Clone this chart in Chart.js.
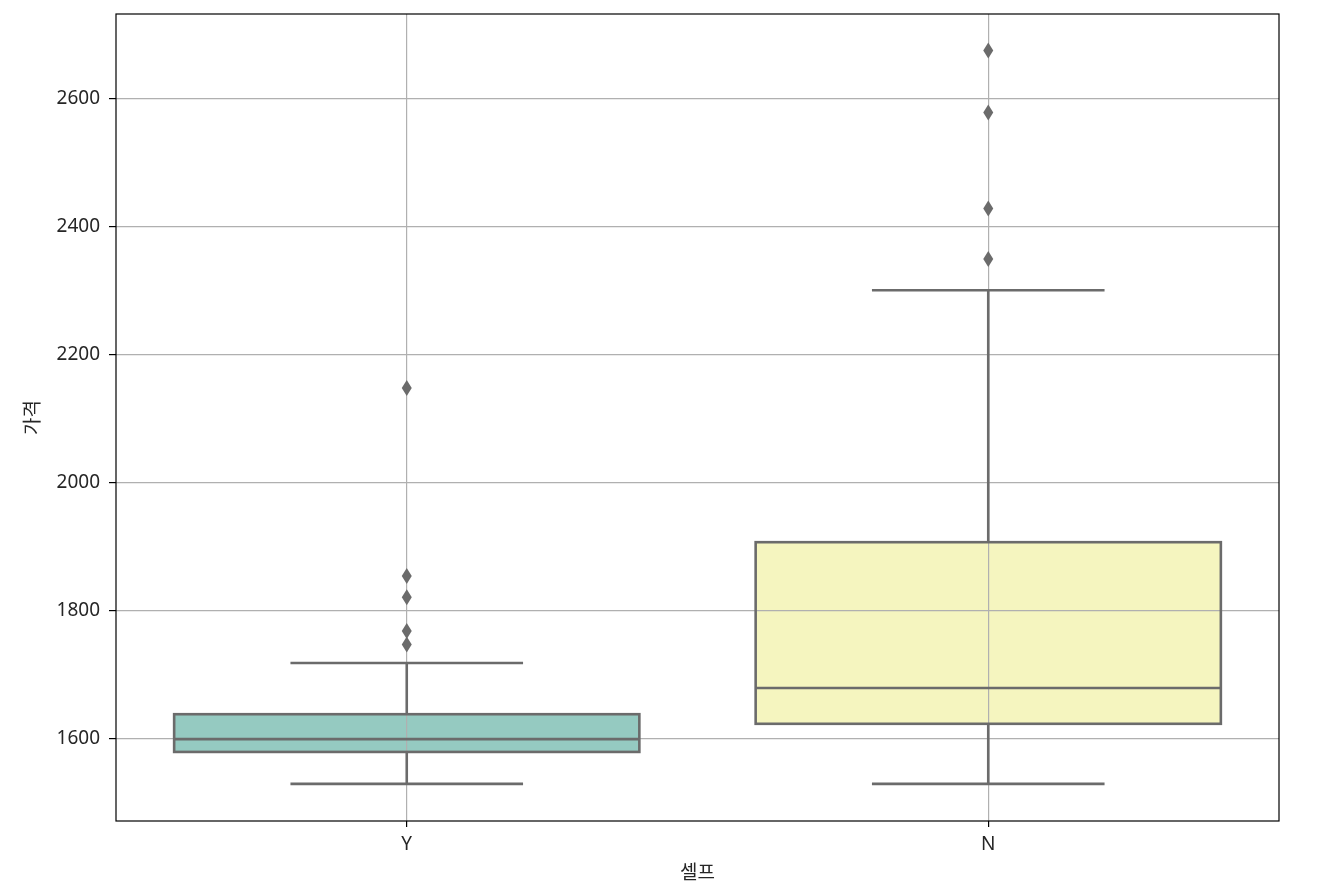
<!DOCTYPE html>
<html>
<head>
<meta charset="utf-8">
<script src="https://cdn.jsdelivr.net/npm/chart.js@4"></script>
<style>
  body { margin: 0; background: #fff; }
  #wrap { width: 1321px; height: 889px; }
</style>
</head>
<body>
<div id="wrap"><canvas id="boxChart" width="1321" height="889"></canvas></div>
<script>
// 데이터
const categories = ['Y', 'N'];
const whiskerLow = [1529, 1529];
const q1 = [1579, 1623];
const median = [1599, 1679];
const q3 = [1638, 1907];
const whiskerHigh = [1718, 2301];
const outliers = [
    [2148, 1854, 1821, 1768, 1747],
    [2676, 2579, 2429, 2350]
];
const boxColors = ['#95cac1', '#f5f5bf'];
const tickValues = [1600, 1800, 2000, 2200, 2400, 2600];

const lineGrey = '#6b6b6b';
const fontFamily = "'Noto Sans', 'Noto Sans CJK KR', sans-serif";

// 박스 테두리, 수염, 중앙값, 이상치 그리기
const boxPlotPlugin = {
    id: 'boxPlot',
    afterDraw(chart) {
        const ctx = chart.ctx;
        const y = chart.scales.y;
        const meta = chart.getDatasetMeta(0);
        ctx.save();
        ctx.strokeStyle = lineGrey;
        ctx.lineWidth = 2.6;
        meta.data.forEach((bar, i) => {
            const cx = bar.x;
            const half = bar.width / 2;
            const yq1 = y.getPixelForValue(q1[i]);
            const yq3 = y.getPixelForValue(q3[i]);
            const ylo = y.getPixelForValue(whiskerLow[i]);
            const yhi = y.getPixelForValue(whiskerHigh[i]);
            const ymed = y.getPixelForValue(median[i]);

            ctx.beginPath();
            // 수염
            ctx.moveTo(cx, yq3); ctx.lineTo(cx, yhi);
            ctx.moveTo(cx, yq1); ctx.lineTo(cx, ylo);
            // 캡
            ctx.moveTo(cx - half / 2, yhi); ctx.lineTo(cx + half / 2, yhi);
            ctx.moveTo(cx - half / 2, ylo); ctx.lineTo(cx + half / 2, ylo);
            // 중앙값
            ctx.moveTo(cx - half, ymed); ctx.lineTo(cx + half, ymed);
            ctx.stroke();
            // 박스
            ctx.strokeRect(cx - half, yq3, half * 2, yq1 - yq3);

            // 이상치 (다이아몬드)
            ctx.fillStyle = lineGrey;
            outliers[i].forEach(v => {
                const py = y.getPixelForValue(v);
                ctx.beginPath();
                ctx.moveTo(cx, py - 8);
                ctx.lineTo(cx + 5, py);
                ctx.lineTo(cx, py + 8);
                ctx.lineTo(cx - 5, py);
                ctx.closePath();
                ctx.fill();
            });
        });
        // 테두리
        const a = chart.chartArea;
        ctx.strokeStyle = '#000';
        ctx.lineWidth = 1.2;
        ctx.strokeRect(a.left, a.top, a.right - a.left, a.bottom - a.top);
        ctx.restore();
    }
};

const ctx = document.getElementById('boxChart').getContext('2d');
const boxChart = new Chart(ctx, {
    type: 'bar',
    data: {
        labels: categories,
        datasets: [{
            data: categories.map((c, i) => [q1[i], q3[i]]),
            backgroundColor: boxColors,
            borderWidth: 0,
            barPercentage: 0.8,
            categoryPercentage: 1
        }]
    },
    options: {
        responsive: false,
        animation: false,
        layout: { padding: { left: 0, right: 42, top: 14, bottom: 0 } },
        plugins: {
            legend: { display: false },
            tooltip: { enabled: false }
        },
        scales: {
            x: {
                offset: true,
                grid: { z: 1, offset: false, color: '#b0b0b0', lineWidth: 1.2, tickColor: '#000', tickLength: 6 },
                border: { display: false },
                ticks: { color: '#262626', padding: 6, font: { family: fontFamily, size: 19 } },
                title: { display: true, text: '셀프', color: '#262626', padding: { top: 0, bottom: 4 }, font: { family: fontFamily, size: 19 } },
                afterFit(scale) { scale.height = 68; }
            },
            y: {
                min: 1471,
                max: 2733,
                grid: { z: 1, color: '#b0b0b0', lineWidth: 1.2, tickColor: '#000', tickLength: 7 },
                border: { display: false },
                ticks: {
                    color: '#262626',
                    padding: 9,
                    font: { family: fontFamily, size: 19 },
                    callback: v => String(v)
                },
                afterBuildTicks(scale) { scale.ticks = tickValues.map(v => ({ value: v })); },
                title: { display: true, text: '가격', color: '#262626', padding: { top: 22, bottom: 0 }, font: { family: fontFamily, size: 19 } },
                afterFit(scale) {
                    scale.width = 116;
                    scale.paddingTop = 0;
                    scale.paddingBottom = 0;
                }
            }
        }
    },
    plugins: [boxPlotPlugin]
});
</script>
</body>
</html>
